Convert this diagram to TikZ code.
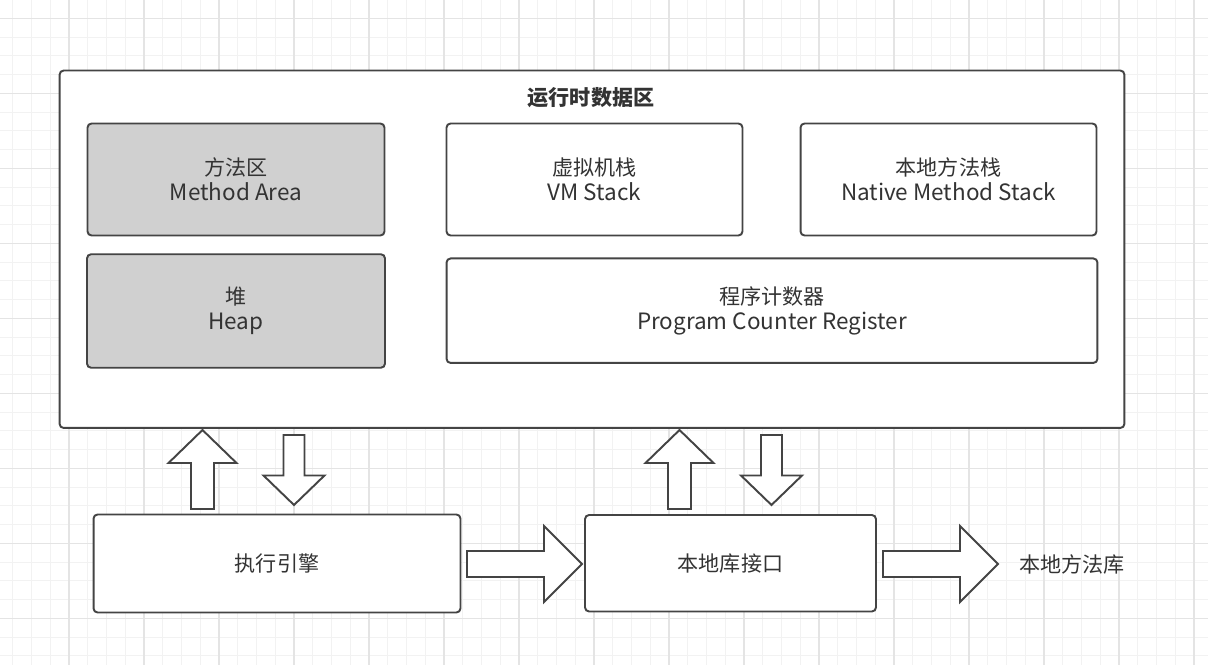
\documentclass[tikz,border=0pt]{standalone}
\usepackage{fontspec}
\setmainfont{Noto Sans CJK SC}
\usepackage{tikz}
\definecolor{edgegray}{HTML}{444444}
\definecolor{textgray}{HTML}{333333}
\definecolor{heapgray}{HTML}{D0D0D0}
\definecolor{minorline}{HTML}{F2F2F2}
\definecolor{majorline}{HTML}{E4E4E4}
\newcommand{\engline}[1]{{\fontsize{12.8}{14.4}\selectfont #1}}
\begin{document}
\begin{tikzpicture}[
		x=0.02cm, y=-0.02cm,
		areabox/.style={draw=edgegray, line width=1.1pt, rounded corners=2.3pt, fill=white,
		align=center, inner sep=0pt, text=textgray, font=\fontsize{12}{14.4}\selectfont},
		greybox/.style={areabox, fill=heapgray},
		bigarrow/.style={draw=edgegray, line width=1.1pt, fill=white, line join=miter},
		minorgrid/.style={minorline, line width=0.6pt},
		majorgrid/.style={majorline, line width=0.6pt}
		]
		
		\useasboundingbox (0,0) rectangle (1208,665);
		\fill[white] (0,0) rectangle (1208,665);
		\foreach \i in {0,...,63}
		\draw[minorgrid] (12.75+\i*18.75,0) -- (12.75+\i*18.75,665);
		\foreach \i in {0,...,34}
		\draw[minorgrid] (0,18.3+\i*18.75) -- (1208,18.3+\i*18.75);
		\foreach \i in {0,...,15}
		\draw[majorgrid] (69+\i*75,0) -- (69+\i*75,665);
		\foreach \i in {0,...,8}
		\draw[majorgrid] (0,18.3+\i*75) -- (1208,18.3+\i*75);
		
		\node[areabox, minimum width=21.3cm, minimum height=7.15cm](rt) at (592,249.25){};
		\node[text=textgray, font=\fontsize{12}{14.4}\selectfont\bfseries](rttitle) at (591,97.5){运行时数据区};
		\node[greybox, minimum width=5.94cm, minimum height=2.24cm](ma) at (236,179.5){方法区\\\engline{Method Area}};
		\node[greybox, minimum width=5.96cm, minimum height=2.27cm](heap) at (236,311){堆\\\engline{Heap}};
		\node[areabox, minimum width=5.92cm, minimum height=2.24cm](vms) at (594.5,179.5){虚拟机栈\\\engline{VM Stack}};
		\node[areabox, minimum width=5.92cm, minimum height=2.24cm](nms) at (948.5,179.5){本地方法栈\\\engline{Native Method Stack}};
		\node[areabox, minimum width=13.02cm, minimum height=2.09cm](pcr) at (772,310.7){程序计数器\\\engline{Program Counter Register}};
		
		\node[areabox, minimum width=7.34cm, minimum height=1.96cm](ee) at (277,563.5){执行引擎};
		\node[areabox, minimum width=5.82cm, minimum height=1.93cm](nif) at (730.5,563.25){本地库接口};
		\node[text=textgray, font=\fontsize{12}{14.4}\selectfont](nlib) at (1072,564){本地方法库};
		
		\foreach \cx in {202.5,679.5}
		\draw[bigarrow] (\cx-11.5,509) -- (\cx-11.5,463) -- (\cx-34,463) -- (\cx,430)
		-- (\cx+34,463) -- (\cx+11.5,463) -- (\cx+11.5,509) -- cycle;
		\foreach \cx in {294,771.5}
		\draw[bigarrow] (\cx-10.5,435) -- (\cx-10.5,475.5) -- (\cx-30.5,475.5) -- (\cx,505)
		-- (\cx+30.5,475.5) -- (\cx+10.5,475.5) -- (\cx+10.5,435) -- cycle;
		\foreach \sx in {467,883}
		\draw[bigarrow] (\sx,551) -- (\sx+77,551) -- (\sx+77,526) -- (\sx+115,564)
		-- (\sx+77,602) -- (\sx+77,577) -- (\sx,577) -- cycle;
	\end{tikzpicture}
\end{document}
